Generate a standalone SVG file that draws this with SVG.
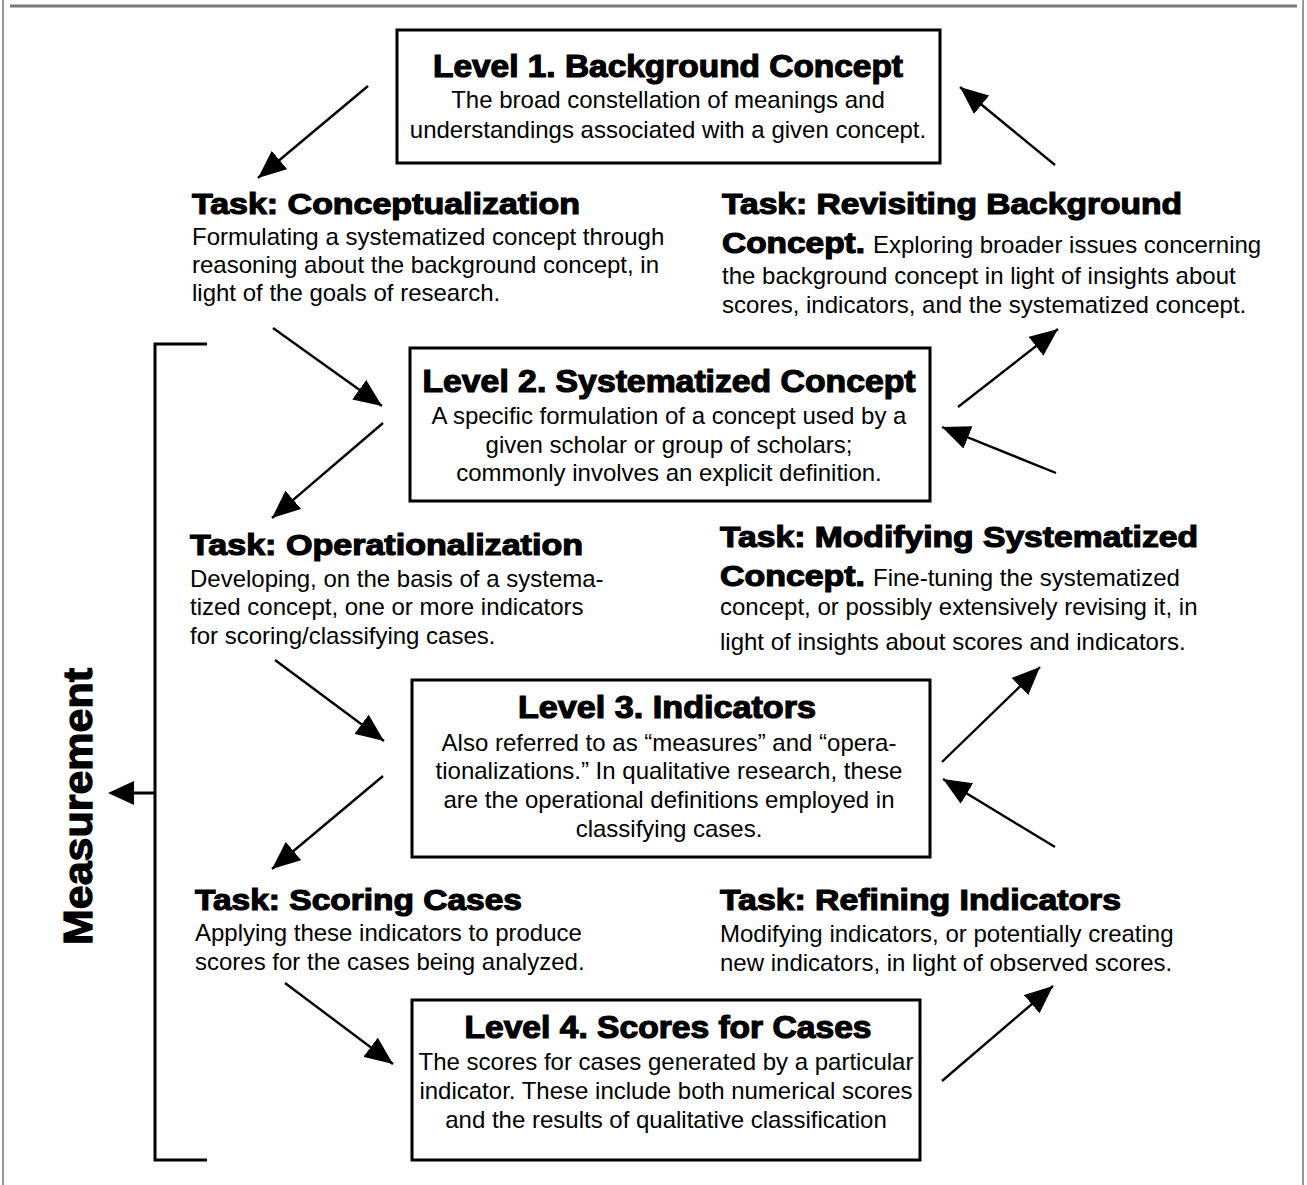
<svg xmlns="http://www.w3.org/2000/svg" width="1307" height="1185" viewBox="0 0 1307 1185">
<defs>
<marker id="ah" markerUnits="userSpaceOnUse" markerWidth="30" markerHeight="24" refX="28" refY="12" orient="auto">
<path d="M0,0 L28,12 L0,24 z" fill="#000"/>
</marker>
<style>
.box{fill:#fff;stroke:#000;stroke-width:3}
.t{font-family:"Liberation Sans",Arial,sans-serif;font-weight:bold;fill:#000;stroke:#000;stroke-width:1.2}
.lt{font-size:31px}
.tt{font-size:30px}
.b{font-family:"Liberation Sans",Arial,sans-serif;font-size:24px;fill:#000}
.c{text-anchor:middle}
.con line{stroke:#000;stroke-width:2.4;marker-end:url(#ah)}
.frame{stroke:#777;fill:none}
</style>
</defs>
<rect width="1307" height="1185" fill="#fff"/>
<g id="frame">
<line class="frame" x1="10" y1="6" x2="1297" y2="6" stroke-width="3"/>
<line class="frame" x1="3" y1="0" x2="3" y2="1185" stroke-width="1.5"/>
<line class="frame" x1="1303" y1="0" x2="1303" y2="1185" stroke-width="1.5"/>
</g>
<g id="level1">
<rect class="box" x="397" y="30" width="543" height="133"/>
<text class="t lt c" x="668" y="77" textLength="470" lengthAdjust="spacingAndGlyphs">Level 1. Background Concept</text>
<text class="b c" x="668" y="108">The broad constellation of meanings and</text>
<text class="b c" x="668" y="138">understandings associated with a given concept.</text>
</g>
<g id="task-conceptualization">
<text class="t tt" x="192" y="214" textLength="388" lengthAdjust="spacingAndGlyphs">Task: Conceptualization</text>
<text class="b" x="192" y="245">Formulating a systematized concept through</text>
<text class="b" x="192" y="273">reasoning about the background concept, in</text>
<text class="b" x="192" y="301">light of the goals of research.</text>
</g>
<g id="task-revisiting">
<text class="t tt" x="722" y="214" textLength="460" lengthAdjust="spacingAndGlyphs">Task: Revisiting Background</text>
<text class="t tt" x="722" y="253" textLength="143" lengthAdjust="spacingAndGlyphs">Concept.</text>
<text class="b" x="873" y="253">Exploring broader issues concerning</text>
<text class="b" x="722" y="284">the background concept in light of insights about</text>
<text class="b" x="722" y="313">scores, indicators, and the systematized concept.</text>
</g>
<g id="level2">
<rect class="box" x="410" y="348" width="520" height="153"/>
<text class="t lt c" x="669" y="392" textLength="493" lengthAdjust="spacingAndGlyphs">Level 2. Systematized Concept</text>
<text class="b c" x="669" y="424">A specific formulation of a concept used by a</text>
<text class="b c" x="669" y="453">given scholar or group of scholars;</text>
<text class="b c" x="669" y="481">commonly involves an explicit definition.</text>
</g>
<g id="task-operationalization">
<text class="t tt" x="190" y="555" textLength="393" lengthAdjust="spacingAndGlyphs">Task: Operationalization</text>
<text class="b" x="190" y="587">Developing, on the basis of a systema-</text>
<text class="b" x="190" y="615">tized concept, one or more indicators</text>
<text class="b" x="190" y="644">for scoring/classifying cases.</text>
</g>
<g id="task-modifying">
<text class="t tt" x="720" y="547" textLength="478" lengthAdjust="spacingAndGlyphs">Task: Modifying Systematized</text>
<text class="t tt" x="720" y="586" textLength="145" lengthAdjust="spacingAndGlyphs">Concept.</text>
<text class="b" x="873" y="586">Fine-tuning the systematized</text>
<text class="b" x="720" y="615">concept, or possibly extensively revising it, in</text>
<text class="b" x="720" y="650">light of insights about scores and indicators.</text>
</g>
<g id="level3">
<rect class="box" x="412" y="680" width="518" height="177"/>
<text class="t lt c" x="667" y="718" textLength="298" lengthAdjust="spacingAndGlyphs">Level 3. Indicators</text>
<text class="b c" x="669" y="751">Also referred to as “measures” and “opera-</text>
<text class="b c" x="669" y="779">tionalizations.” In qualitative research, these</text>
<text class="b c" x="669" y="808">are the operational definitions employed in</text>
<text class="b c" x="669" y="837">classifying cases.</text>
</g>
<g id="task-scoring">
<text class="t tt" x="195" y="910" textLength="327" lengthAdjust="spacingAndGlyphs">Task: Scoring Cases</text>
<text class="b" x="195" y="941">Applying these indicators to produce</text>
<text class="b" x="195" y="970">scores for the cases being analyzed.</text>
</g>
<g id="task-refining">
<text class="t tt" x="720" y="910" textLength="401" lengthAdjust="spacingAndGlyphs">Task: Refining Indicators</text>
<text class="b" x="720" y="942">Modifying indicators, or potentially creating</text>
<text class="b" x="720" y="971">new indicators, in light of observed scores.</text>
</g>
<g id="level4">
<rect class="box" x="412" y="1000" width="508" height="160"/>
<text class="t lt c" x="668" y="1038" textLength="407" lengthAdjust="spacingAndGlyphs">Level 4. Scores for Cases</text>
<text class="b c" x="666" y="1070">The scores for cases generated by a particular</text>
<text class="b c" x="666" y="1099">indicator. These include both numerical scores</text>
<text class="b c" x="666" y="1128">and the results of qualitative classification</text>
</g>
<g id="measurement">
<path d="M207,344 H155 V1160 H207" fill="none" stroke="#000" stroke-width="3"/>
<line x1="155" y1="793" x2="130" y2="793" stroke="#000" stroke-width="3"/>
<path d="M108,793 L134,781 L134,805 z" fill="#000"/>
<text class="t" x="0" y="0" font-size="40" textLength="277" lengthAdjust="spacingAndGlyphs" transform="translate(92,945) rotate(-90)">Measurement</text>
</g>
<g id="connectors" class="con">
<line x1="368" y1="86" x2="258" y2="178"/>
<line x1="1055" y1="165" x2="960" y2="87"/>
<line x1="273" y1="328" x2="382" y2="406"/>
<line x1="383" y1="423" x2="272" y2="518"/>
<line x1="958" y1="407" x2="1058" y2="329"/>
<line x1="1056" y1="473" x2="942" y2="427"/>
<line x1="275" y1="660" x2="384" y2="741"/>
<line x1="383" y1="776" x2="272" y2="869"/>
<line x1="942" y1="762" x2="1040" y2="667"/>
<line x1="1055" y1="847" x2="943" y2="779"/>
<line x1="285" y1="983" x2="393" y2="1064"/>
<line x1="942" y1="1081" x2="1053" y2="986"/>
</g>
</svg>
